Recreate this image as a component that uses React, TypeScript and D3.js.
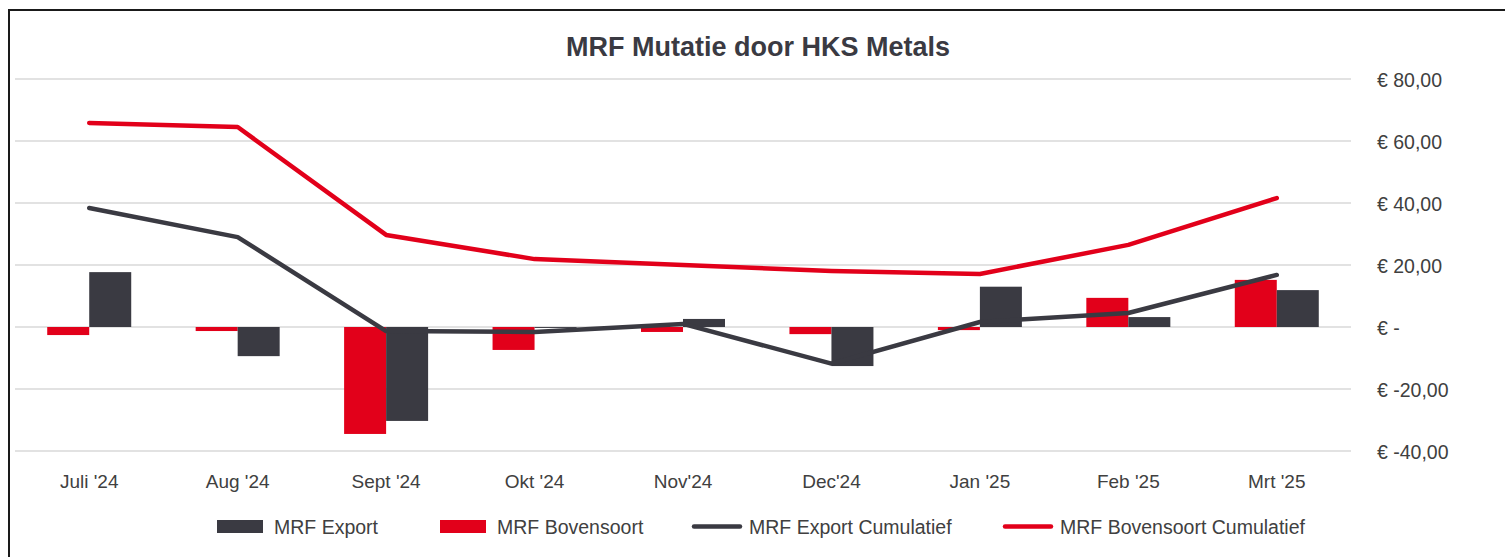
import React, { useEffect, useRef } from 'react';
import * as d3 from 'd3';

const months = ["Juli '24", "Aug '24", "Sept '24", "Okt '24", "Nov'24", "Dec'24", "Jan '25", "Feb '25", "Mrt '25"];
const exportVals = [17.7, -9.4, -30.3, -0.3, 2.6, -12.6, 13.0, 3.2, 11.9];
const bovensoortVals = [-2.6, -1.3, -34.5, -7.4, -1.6, -2.3, -1.0, 9.4, 15.2];
const exportCum = [38.4, 29.0, -1.3, -1.6, 1.0, -11.8, 1.6, 4.5, 16.8];
const bovensoortCum = [65.8, 64.5, 29.7, 21.9, 20.0, 18.1, 17.1, 26.5, 41.6];
const yTicks = [-40, -20, 0, 20, 40, 60, 80];

const DARK = '#3a3a42';
const RED = '#e2001a';
const TEXT = '#404040';
const FONT = '"Liberation Sans", Arial, sans-serif';

const fmt = (v: number) => v === 0 ? '€ -' : `€ ${v < 0 ? '-' : ''}${Math.abs(v).toFixed(2).replace('.', ',')}`;

const App: React.FC = () => {
  const svgRef = useRef<SVGSVGElement>(null);

  useEffect(() => {
    const W = 1505, H = 557;
    const svg = d3.select(svgRef.current).attr('width', W).attr('height', H);
    svg.selectAll('*').remove();

    svg.append('rect').attr('width', W).attr('height', H).attr('fill', '#fff');
    // frame (right/bottom edges run off the picture)
    svg.append('rect')
      .attr('x', 9).attr('y', 10).attr('width', W + 20).attr('height', H + 20)
      .attr('fill', 'none').attr('stroke', '#1a1a1a').attr('stroke-width', 2);

    const left = 15, right = 1351;
    const x = d3.scaleBand().domain(months).range([left, right]).paddingInner(0).paddingOuter(0);
    const y = d3.scaleLinear().domain([-40, 80]).range([451, 79]);
    const barW = 42;

    svg.append('text')
      .attr('x', 758).attr('y', 56)
      .attr('text-anchor', 'middle')
      .attr('font-family', FONT).attr('font-weight', 'bold').attr('font-size', 27)
      .attr('fill', DARK)
      .text('MRF Mutatie door HKS Metals');

    // gridlines
    svg.append('g').selectAll('line').data(yTicks).enter().append('line')
      .attr('x1', left).attr('x2', right)
      .attr('y1', d => y(d)).attr('y2', d => y(d))
      .attr('stroke', '#d9d9d9').attr('stroke-width', 1.5);

    // right axis labels
    svg.append('g').selectAll('text').data(yTicks).enter().append('text')
      .attr('x', 1377).attr('y', d => y(d) + 7.5)
      .attr('font-family', FONT).attr('font-size', 19.5).attr('fill', TEXT)
      .text(d => fmt(d));

    const cx = (m: string) => x(m)! + x.bandwidth() / 2;

    // bars
    const gBars = svg.append('g');
    gBars.selectAll('rect.bov').data(bovensoortVals).enter().append('rect')
      .attr('class', 'bov')
      .attr('x', (_, i) => cx(months[i]) - barW)
      .attr('width', barW)
      .attr('y', d => y(Math.max(0, d)))
      .attr('height', d => Math.abs(y(d) - y(0)))
      .attr('fill', RED);
    gBars.selectAll('rect.exp').data(exportVals).enter().append('rect')
      .attr('class', 'exp')
      .attr('x', (_, i) => cx(months[i]))
      .attr('width', barW)
      .attr('y', d => y(Math.max(0, d)))
      .attr('height', d => Math.abs(y(d) - y(0)))
      .attr('fill', DARK);

    const line = d3.line<number>().x((_, i) => cx(months[i])).y(d => y(d));
    svg.append('path').datum(exportCum)
      .attr('d', line).attr('fill', 'none').attr('stroke', DARK)
      .attr('stroke-width', 4.5).attr('stroke-linecap', 'round').attr('stroke-linejoin', 'round');
    svg.append('path').datum(bovensoortCum)
      .attr('d', line).attr('fill', 'none').attr('stroke', RED)
      .attr('stroke-width', 4.5).attr('stroke-linecap', 'round').attr('stroke-linejoin', 'round');

    // x labels
    svg.append('g').selectAll('text').data(months).enter().append('text')
      .attr('x', d => cx(d)).attr('y', 488)
      .attr('text-anchor', 'middle')
      .attr('font-family', FONT).attr('font-size', 19).attr('fill', TEXT)
      .text(d => d);

    // legend
    const legend = [
      { label: 'MRF Export', color: DARK, type: 'rect', x: 217 },
      { label: 'MRF Bovensoort', color: RED, type: 'rect', x: 440 },
      { label: 'MRF Export Cumulatief', color: DARK, type: 'line', x: 692 },
      { label: 'MRF Bovensoort Cumulatief', color: RED, type: 'line', x: 1003 },
    ];
    const lg = svg.append('g');
    legend.forEach(l => {
      if (l.type === 'rect') {
        lg.append('rect').attr('x', l.x).attr('y', 520).attr('width', 46).attr('height', 13).attr('fill', l.color);
      } else {
        lg.append('line').attr('x1', l.x + 2).attr('x2', l.x + 48).attr('y1', 526.5).attr('y2', 526.5)
          .attr('stroke', l.color).attr('stroke-width', 4.5).attr('stroke-linecap', 'round');
      }
      lg.append('text').attr('x', l.x + 57).attr('y', 533.5)
        .attr('font-family', FONT).attr('font-size', 19.5).attr('fill', TEXT)
        .text(l.label);
    });
  }, []);

  return <svg ref={svgRef} style={{ position: 'absolute', left: 0, top: 0 }}></svg>;
};

export default App;
